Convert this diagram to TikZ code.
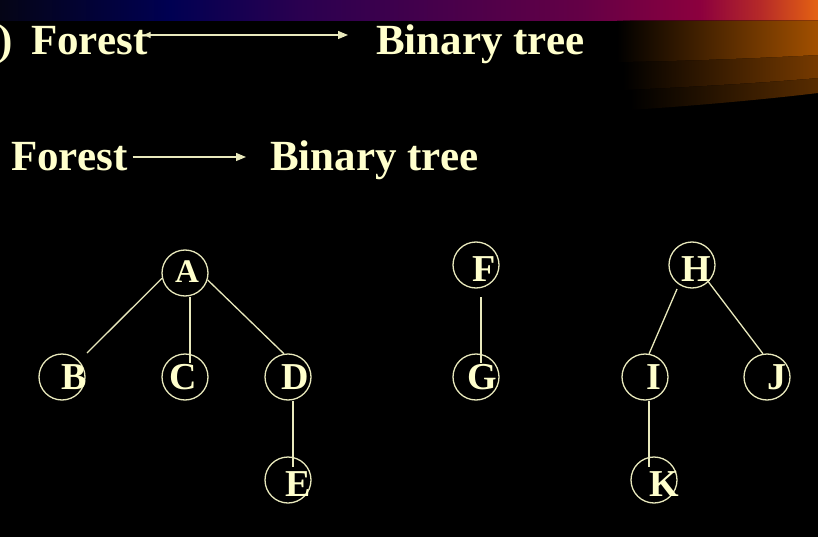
\documentclass[tikz,border=0pt]{standalone}
\usepackage{fontspec}
\setmainfont{Liberation Serif}
\usetikzlibrary{calc,arrows.meta}
\definecolor{cream}{RGB}{255,255,204}
\definecolor{lcream}{RGB}{232,232,188}
\definecolor{bc0}{RGB}{5,5,22}
\definecolor{bc1}{RGB}{0,0,82}
\definecolor{bc2}{RGB}{42,0,80}
\definecolor{bc3}{RGB}{100,0,70}
\definecolor{bc4}{RGB}{140,0,62}
\definecolor{bc5}{RGB}{182,42,40}
\definecolor{bc6}{RGB}{228,98,18}
\pgfdeclarehorizontalshading{topbar}{100bp}{color(0bp)=(bc0); color(25bp)=(bc0); color(35.4bp)=(bc1); color(43.3bp)=(bc2); color(60.5bp)=(bc3); color(67.8bp)=(bc4); color(71.5bp)=(bc5); color(75bp)=(bc6); color(100bp)=(bc6)}
\begin{document}
\begin{tikzpicture}[x=1pt,y=-1pt,
  ttl/.style={text=cream,font=\fontsize{43}{43}\selectfont\bfseries,inner sep=0pt},
  vtx/.style={circle,draw=lcream,line width=1.3pt,minimum size=46pt,inner sep=0pt},
  ltr/.style={text=cream,font=\fontsize{38}{38}\selectfont\bfseries,inner sep=0pt,text height=25pt,text depth=0pt},
  edge/.style={draw=lcream,line width=1.3pt},
  arr/.style={draw=lcream,line width=1.2pt}]
\fill[black] (0,0) rectangle (818,537);
\useasboundingbox (0,0) rectangle (818,537);
% top bar
\fill[shading=topbar] (0,1) rectangle (818,21);
% orange bands
\fill[left color=black,right color={rgb,255:red,88;green,44;blue,0}] (630,21) -- (818,21) -- (818,93) .. controls (760,100) and (690,106) .. (630,110) -- cycle;
\fill[left color=black,right color={rgb,255:red,118;green,58;blue,0}] (623,21) -- (818,21) -- (818,78) .. controls (760,83) and (690,87) .. (623,90) -- cycle;
\fill[left color=black,right color={rgb,255:red,162;green,80;blue,0}] (617,21) -- (818,21) -- (818,55) .. controls (760,58) and (690,61) .. (617,62) -- cycle;
% titles
\node[ttl,anchor=base east] (paren) at (13,55) {)};
\node[ttl,anchor=base west] (forest1) at (31,55) {Forest};
\node[ttl,anchor=base west] (binary1) at (376,55) {Binary tree};
\draw[arr,{Triangle[length=7pt,width=6pt]}-{Triangle[length=10pt,width=8pt]}] ([xshift=-4pt,yshift=20pt]forest1.base east) -- ([xshift=-28pt,yshift=20pt]binary1.base west);
\node[ttl,anchor=base west] (forest2) at (11,171) {Forest};
\node[ttl,anchor=base west] (binary2) at (270,171) {Binary tree};
\draw[arr,-{Triangle[length=10pt,width=8pt]}] ([xshift=5pt,yshift=14pt]forest2.base east) -- ([xshift=-24pt,yshift=14pt]binary2.base west);
% vertices
\node[vtx] (A) at (185,273) {};
\node[vtx] (B) at (62,377) {};
\node[vtx] (C) at (185,377) {};
\node[vtx] (D) at (288,377) {};
\node[vtx] (E) at (288,480) {};
\node[vtx] (F) at (476,265) {};
\node[vtx] (G) at (476,377) {};
\node[vtx] (H) at (692,265) {};
\node[vtx] (I) at (645,377) {};
\node[vtx] (J) at (767,377) {};
\node[vtx] (K) at (654,480) {};
% letters
\node[ltr,font=\fontsize{33}{33}\selectfont\bfseries,text height=21pt] (At) at ($(A)+(2,-1)$) {A};
\node[ltr] (Bt) at ($(B)+(12,0)$) {B};
\node[ltr] (Ct) at ($(C)+(-2,0)$) {C};
\node[ltr] (Dt) at ($(D)+(7,0)$) {D};
\node[ltr] (Et) at ($(E)+(10,4)$) {E};
\node[ltr] (Ft) at ($(F)+(8,4)$) {F};
\node[ltr] (Gt) at ($(G)+(6,0)$) {G};
\node[ltr] (Ht) at ($(H)+(4,4)$) {H};
\node[ltr] (It) at ($(I)+(9,0)$) {I};
\node[ltr] (Jt) at ($(J)+(10,0)$) {J};
\node[ltr] (Kt) at ($(K)+(10,4)$) {K};
% edges
\draw[edge] (A.193) -- ([shift={(25pt,24pt)}]B.center);
\draw[edge] ([xshift=5pt]A.south) -- ([shift={(5pt,14pt)}]C.center);
\draw[edge] (A.-17) -- (D.100);
\draw[edge] ([xshift=5pt]D.south) -- ([shift={(5pt,13pt)}]E.center);
\draw[edge] ([shift={(5pt,-32pt)}]F.center) -- ([shift={(5pt,14pt)}]G.center);
\draw[edge] ([shift={(-15pt,-24pt)}]H.center) -- (I.80);
\draw[edge] ([shift={(15pt,-15pt)}]H.center) -- (J.100);
\draw[edge] ([xshift=4pt]I.south) -- ([shift={(-5pt,13pt)}]K.center);
\end{tikzpicture}
\end{document}
